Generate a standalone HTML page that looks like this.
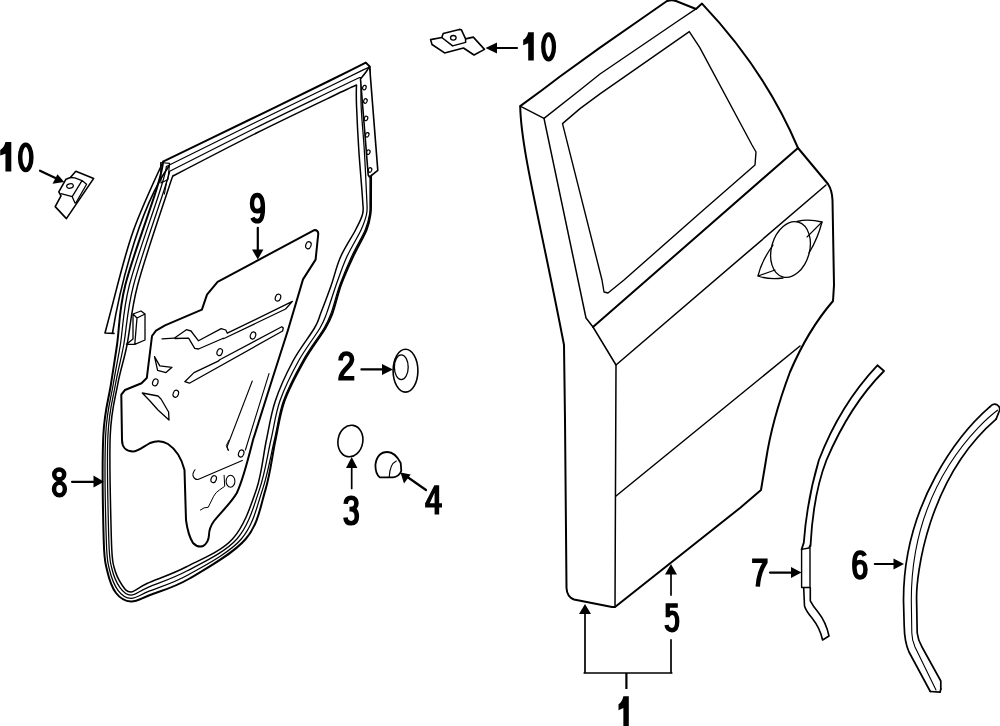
<!DOCTYPE html>
<html><head><meta charset="utf-8"><style>
html,body{margin:0;padding:0;background:#fff;overflow:hidden;}
svg{display:block;}
text{font-family:"Liberation Sans",sans-serif;font-weight:bold;fill:#000;}
</style></head><body>
<svg width="1000" height="726" viewBox="0 0 1000 726">
<g fill="none" stroke="#000" stroke-linejoin="round" stroke-linecap="round">
<path d="M520.2,106.1 L542.2,90 L560,76.5 L600,47.6 L639.7,20 L667,1 Q672,-0.5 676,1 L696,9 L702,3.6 Q765,70 798,148 L828,184 Q832,190 832.5,200 L834,285 L833,301 Q808,330 790,372 Q772,420 766,460 L761,490 L740,508 L615,607 L612,607 L574,599.5 Q567,597 566.5,588 L565,420 L564,345 C540,220 521,150 520.2,106.1 Z" stroke-width="2.0" />
<path d="M520.2,106.1 L544,118.4 L580,90 L600,74 L679.4,20 L696,8.8" stroke-width="1.4" />
<path d="M544,118.4 L586,318 L593,327 L616,365 L615,607" stroke-width="1.5" />
<path d="M562.5,123.6 L580,108.6 L600,93.9 L689.3,31.6 L699.8,47.6 L752,145 L756,152 L755,165 L700,213 L624,280 L608,293 L604,292 L602,280 Z" stroke-width="1.4" />
<path d="M798,148 L593,327" stroke-width="2.0" />
<path d="M826,185 L616,365" stroke-width="1.5" />
<path d="M800,346 L616,496" stroke-width="1.5" />
<ellipse cx="790.5" cy="249.5" rx="19" ry="28.5" transform="rotate(16 790.5 249.5)" stroke-width="1.3"/>
<path d="M797,221.5 Q808,218.5 822,222 Q818,238 809,253" stroke-width="1.3" />
<path d="M822,222 L807,237" stroke-width="1.1" />
<path d="M773,245 Q761,262 758,276 Q769,280 783,278" stroke-width="1.3" />
<path d="M758,276 L775,270" stroke-width="1.1" />
<path d="M430.6,39.6 L441.8,37.5 L443.2,33.6 L459.3,29.4 L461.4,29.8 L465.6,38.9 L473.3,37.1 L484.5,49.4 L474,55 L463.5,48 L444.6,52.9 L432,44.5 Z" stroke-width="1.6" />
<path d="M441.8,37.5 L452.6,45.9 L465.6,42.4 L465.6,38.9" stroke-width="1.5" />
<ellipse cx="453.3" cy="37.8" rx="2.8" ry="2.3" stroke-width="1.3"/>
<path d="M517,48 L494,48" stroke-width="2.2" />
<polygon points="485.5,48 497,42.5 497,53.5" fill="#000" stroke="none"/>
<path d="M75.8,171.2 L93.7,178.4 L66.4,218.6 L55.2,206.6 L61,195.8 L58.8,191.8 L66,179.2 L70.4,177.5 Z" stroke-width="1.6" />
<path d="M70.4,177.5 L74.9,177.9 L82,180.6 L86.6,184.2 M82,180.6 L72.2,196.7 L61,193.6 M86.6,184.2 L75.8,203 M72.2,196.7 L75,203" stroke-width="1.3" />
<ellipse cx="70" cy="186" rx="3.4" ry="2.2" transform="rotate(-12 70 186)" stroke-width="1.2"/>
<path d="M40,170.7 L57,178.8" stroke-width="2.2" />
<polygon points="64.2,182 52.5,183.7 57.5,174.3" fill="#000" stroke="none"/>
<ellipse cx="405.5" cy="370.7" rx="12.4" ry="21.4" stroke-width="1.6"/>
<ellipse cx="401.3" cy="367.2" rx="6.9" ry="12.4" stroke-width="1.3"/>
<path d="M361.4,369.4 L384,369.4" stroke-width="2.2" />
<polygon points="393,369.4 382,364 382,375" fill="#000" stroke="none"/>
<ellipse cx="350.4" cy="441" rx="12.4" ry="15.9" transform="rotate(10 350.4 441)" stroke-width="1.6"/>
<path d="M351.7,488.5 L351.7,466" stroke-width="1.7" />
<polygon points="351.7,457 346,468 357.4,468" fill="#000" stroke="none"/>
<path d="M387.5,452 Q395,452 400.7,463 L401.3,470.8 Q399,477 393,477.4 L379.8,477.4 Q375.4,474 375.4,465 Q377,452 387.5,452 Z" stroke-width="1.8" />
<path d="M396.3,461 Q389.7,464 389.2,477.4" stroke-width="1.2" />
<path d="M426,490 L406,476" stroke-width="2.2" />
<polygon points="400.5,472.5 404,483.5 410.7,474.5" fill="#000" stroke="none"/>
<path d="M585,673 L585,612 M671,595 L671,572 M671,640 L671,673 M584.4,673 L671.6,673" stroke-width="1.7" stroke-linecap="square"/>
<path d="M626.4,673 L626.4,689" stroke-width="2.2" stroke-linecap="butt"/>
<polygon points="585,604 579,614 591,614" fill="#000" stroke="none"/>
<polygon points="671,564 665,574.5 677,574.5" fill="#000" stroke="none"/>
<path d="M770,572.6 L793,572.6" stroke-width="2.2" />
<polygon points="801.5,572.6 791,567 791,578" fill="#000" stroke="none"/>
<path d="M874.8,564 L896,564" stroke-width="2.2" />
<polygon points="904,564 893.5,558.5 893.5,569.5" fill="#000" stroke="none"/>
<path d="M72,481.8 L94,481.8" stroke-width="2.2" />
<polygon points="104,481.8 93.5,475.5 93.5,487.5" fill="#000" stroke="none"/>
<path d="M257.8,227.8 L257.8,250" stroke-width="2.2" />
<polygon points="257.8,259.4 252,249.5 263.4,249.5" fill="#000" stroke="none"/>
<path d="M877.4,365.3 L884,371 Q850,405 826.5,460 Q813,495 810.5,546 M877.4,365.3 Q840,405 818.9,460 Q807,500 803.8,542.6 L801.6,549.4" stroke-width="1.8" />
<path d="M801.6,549.4 L808.8,548 L810,545.4 M801.6,549.4 L801.6,587.5 L810,587.5 L810,546" stroke-width="1.4" />
<path d="M803.7,587.8 L804.5,606 Q806,611 812,618 Q820,628 822.6,640 L829,636 Q826,622 818,612 Q813,606 810.3,600.8 L810.3,587.8" stroke-width="1.6" />
<path d="M990,406.7 C960.1,432.6 903.5,502.5 903.5,600 L904.2,626 Q904.5,642 909,652 L930.3,691.5" stroke-width="1.7" />
<path d="M996.1,419.1 C927.2,478.6 915.9,576.6 916.6,600 L917.2,633 Q918,640 922,647 L940.8,681 L940.8,688.9" stroke-width="1.7" />
<path d="M997.5,410.2 C983.4,420.7 911.3,482.6 911.3,600 L911.8,633 Q912,640 915,647 L936,690" stroke-width="1.1" />
<path d="M990,406.7 Q993,403 996.8,404.6 Q1000.5,407 999.6,410.2 L996.1,419.1 M930.3,691.5 L940.1,692.2 L940.8,688.9" stroke-width="1.7" />
<path d="M163.0,161.7 C163.0,161.7 222.2,133.0 250.0,119.5 C277.8,106.0 310.7,90.0 330.0,80.5 C349.3,71.0 365.8,62.6 365.8,62.6 C365.8,62.6 369.6,66.4 369.6,66.4 C369.6,66.4 370.1,91.1 370.3,105.0 C370.5,118.9 370.9,134.2 371.0,150.0 C371.1,165.8 371.1,189.3 371.0,200.0 C370.9,210.7 371.2,209.0 370.5,214.0 C369.8,219.0 369.5,222.8 366.5,230.0 C363.5,237.2 356.9,248.3 352.7,257.5 C348.4,266.7 344.3,275.8 341.0,285.0 C337.7,294.2 335.3,305.4 332.7,312.6 C330.1,319.8 330.3,319.9 325.5,328.0 C320.7,336.1 310.8,348.8 304.0,361.0 C297.2,373.2 289.2,387.8 284.5,401.0 C279.8,414.2 278.7,425.2 275.5,440.0 C272.3,454.8 270.5,473.1 265.5,489.6 C260.5,506.1 258.3,524.2 245.7,539.0 C233.0,553.8 205.5,569.2 189.6,578.5 C173.7,587.8 159.8,591.2 150.0,595.0 C140.2,598.8 136.7,601.8 131.0,601.5 C125.3,601.2 120.0,598.2 116.0,593.0 C112.0,587.8 109.0,578.8 107.0,570.0 C105.0,561.2 104.3,562.3 103.7,540.0 C103.1,517.7 102.1,461.9 103.3,436.0 C104.5,410.1 108.6,399.7 110.9,384.5 C113.2,369.3 114.6,361.6 117.0,345.0 C119.4,328.4 118.8,310.8 125.3,285.0 C131.8,259.2 150.0,210.6 156.3,190.0 C162.6,169.4 163.0,161.7 163.0,161.7 Z" stroke-width="2.0"/>
<path d="M166.3,166.5 C166.3,166.5 224.6,137.6 252.2,124.0 C279.8,110.5 313.6,94.2 332.0,85.2 C350.4,76.2 362.7,70.1 362.7,70.1 C362.7,70.1 368.9,67.3 368.9,67.3 C368.9,67.3 369.4,91.2 369.6,105.0 C369.8,118.8 370.0,134.2 370.0,150.0 C370.1,165.8 370.1,189.3 370.0,200.0 C369.9,210.7 370.4,209.0 369.6,214.0 C368.8,219.0 368.2,222.8 365.2,230.0 C362.1,237.2 355.4,248.3 351.2,257.5 C347.0,266.7 343.2,275.8 339.8,285.0 C336.5,294.2 333.9,305.4 331.3,312.6 C328.7,319.8 328.9,319.9 324.2,328.0 C319.4,336.1 309.5,348.8 302.7,361.0 C295.9,373.2 288.1,387.8 283.4,401.0 C278.7,414.2 277.9,425.2 274.4,440.0 C270.9,454.8 268.0,473.1 262.5,489.6 C256.9,506.1 253.6,524.8 241.3,539.0 C229.0,553.2 203.8,566.0 188.4,574.7 C173.0,583.4 158.6,587.2 149.0,591.2 C139.4,595.1 136.2,598.5 131.0,598.3 C125.8,598.2 121.6,595.2 118.0,590.3 C114.4,585.4 111.3,577.4 109.3,569.0 C107.4,560.6 106.9,562.2 106.3,540.0 C105.6,517.8 104.5,461.9 105.6,436.0 C106.8,410.1 110.7,399.7 113.2,384.5 C115.6,369.3 117.6,361.6 120.3,345.0 C123.0,328.4 122.8,310.8 129.4,285.0 C136.1,259.2 154.1,209.8 160.2,190.0 C166.4,170.2 166.3,166.5 166.3,166.5 Z" stroke-width="1.25"/>
<path d="M169.7,171.2 C169.7,171.2 226.9,142.1 254.3,128.5 C281.7,114.9 316.5,98.3 334.0,89.8 C351.5,81.3 359.6,77.5 359.6,77.5 C359.6,77.5 361.7,77.6 361.7,77.6 C361.7,77.6 360.6,92.9 361.1,105.0 C361.5,117.1 363.3,134.2 364.3,150.0 C365.2,165.8 366.4,189.3 366.8,200.0 C367.2,210.7 367.5,209.0 366.6,214.0 C365.6,219.0 364.3,222.8 361.0,230.0 C357.7,237.2 350.6,248.3 346.5,257.5 C342.4,266.7 339.4,275.8 336.1,285.0 C332.9,294.2 329.5,305.4 326.9,312.6 C324.2,319.8 324.7,319.9 320.0,328.0 C315.3,336.1 305.2,348.8 298.5,361.0 C291.8,373.2 284.5,387.8 279.9,401.0 C275.3,414.2 274.4,425.2 270.9,440.0 C267.5,454.8 265.1,473.1 259.4,489.6 C253.8,506.1 248.9,525.5 236.9,539.0 C224.9,552.5 202.0,562.8 187.2,570.8 C172.4,578.9 157.4,583.3 148.0,587.3 C138.6,591.4 135.7,595.1 131.0,595.2 C126.3,595.2 123.2,592.2 120.0,587.7 C116.8,583.1 113.5,575.9 111.7,568.0 C109.8,560.1 109.5,562.0 108.8,540.0 C108.2,518.0 106.8,461.9 107.9,436.0 C109.0,410.1 112.8,399.7 115.4,384.5 C118.1,369.3 120.6,361.6 123.7,345.0 C126.7,328.4 126.8,310.8 133.6,285.0 C140.3,259.2 158.1,209.0 164.1,190.0 C170.1,171.0 169.7,171.2 169.7,171.2 Z" stroke-width="1.25"/>
<path d="M173.0,176.0 C173.0,176.0 229.3,146.6 256.5,133.0 C283.7,119.4 319.3,102.5 336.0,94.5 C352.7,86.5 356.5,85.0 356.5,85.0 C356.5,85.0 356.5,85.0 356.5,85.0 C356.5,85.0 356.1,94.2 356.5,105.0 C356.9,115.8 357.8,134.2 358.8,150.0 C359.8,165.8 362.0,189.3 362.6,200.0 C363.2,210.7 363.8,209.0 362.6,214.0 C361.4,219.0 359.2,222.8 355.5,230.0 C351.8,237.2 344.3,248.3 340.3,257.5 C336.3,266.7 334.5,275.8 331.3,285.0 C328.1,294.2 323.8,305.4 321.0,312.6 C318.2,319.8 319.2,319.9 314.5,328.0 C309.8,336.1 299.5,348.8 293.0,361.0 C286.5,373.2 279.7,387.8 275.3,401.0 C270.9,414.2 269.5,425.2 266.4,440.0 C263.2,454.8 262.0,473.1 256.4,489.6 C250.7,506.1 244.2,526.1 232.5,539.0 C220.8,551.9 200.2,559.6 186.0,567.0 C171.8,574.4 156.2,579.3 147.0,583.5 C137.8,587.7 135.2,591.8 131.0,592.0 C126.8,592.2 124.8,589.2 122.0,585.0 C119.2,580.8 115.8,574.5 114.0,567.0 C112.2,559.5 112.0,561.8 111.4,540.0 C110.8,518.2 109.2,461.9 110.2,436.0 C111.2,410.1 114.9,399.7 117.7,384.5 C120.5,369.3 123.7,361.6 127.0,345.0 C130.3,328.4 130.9,310.8 137.7,285.0 C144.5,259.2 162.1,208.2 168.0,190.0 C173.9,171.8 173.0,176.0 173.0,176.0 Z" stroke-width="1.5"/>
<path d="M163,162 C125.2,243 129.7,240.7 105,333 L114,333.4 L112.5,333 C117.7,300.5 136.2,212.8 169,166" stroke-width="1.6" />
<path d="M160.6,162.5 L169.6,163.4 L167.9,179.6 L161,183 Z M161,183 L167,180 L164.4,194" stroke-width="1.1" />
<path d="M360.5,79 L366,72 L369.6,66.4 L377.8,170.4 L369.5,177 L368.2,175 Z" fill="#fff" stroke-width="1.6"/>
<ellipse cx="364.4" cy="87.6" rx="1.7" ry="2.3" transform="rotate(20 364.4 87.6)" stroke-width="1.2"/>
<ellipse cx="365.4" cy="101" rx="1.7" ry="2.3" transform="rotate(20 365.4 101)" stroke-width="1.2"/>
<ellipse cx="366" cy="118.4" rx="1.7" ry="2.3" transform="rotate(20 366 118.4)" stroke-width="1.2"/>
<ellipse cx="367.2" cy="134.8" rx="1.7" ry="2.3" transform="rotate(20 367.2 134.8)" stroke-width="1.2"/>
<ellipse cx="368.3" cy="152.2" rx="1.7" ry="2.3" transform="rotate(20 368.3 152.2)" stroke-width="1.2"/>
<ellipse cx="370" cy="170" rx="1.7" ry="2.3" transform="rotate(20 370 170)" stroke-width="1.2"/>
<path d="M133,314 L141,311 L145,314 L145,340 L134.8,344.3 L126.5,344.3 L133,339 Z M133,314 L137,318 L145,314 M137,318 L134.8,344" stroke-width="1.3" />
<path d="M314.7,229.9 Q318,230 318.3,233.5 L315.6,259.6 L303,279.4 L288,330 L272,380 L253,440 C248,460 243,480 236.8,493 C231,503 222,511 214,521 Q209,528 209,535 Q208.5,543 203,546 Q198,548 193,543 Q188,535 186,520 L184.5,470 Q180,452 168,444 Q160,439 150,443 C142,447.5 138,451.5 133,451.5 C126,451.5 122,447 122,440 L121.3,394.6 L125,390 L141.5,383.3 L146.8,378 L152,336 L156,330.6 L165,325.3 L201.9,309.6 L207,294.6 L217.6,281.8 Z" stroke-width="2.0" />
<path d="M162,338.8 L174.2,338.2 L186.4,329.7 L191,331 L198.5,340.8 L221.2,328.6 L225.8,330 L227.3,333.2 L292.4,301.4 L285.6,309 L224,338.5 L222.7,338.5 L198.5,349 L194.7,348.3 L188.6,338.2 L175,338.5" stroke-width="1.3" />
<path d="M184.8,381.7 L194,372.6 L218.2,361.2 L219.7,359.7 L281.8,326.7 L283.3,327.9 L282.6,331 L189.4,383.2 Z" stroke-width="1.3" />
<ellipse cx="230.5" cy="481.2" rx="4.4" ry="6" stroke-width="1.1"/>
<ellipse cx="308.4" cy="245.2" rx="2.6" ry="3.6" transform="rotate(20 308.4 245.2)" stroke-width="1.2"/>
<ellipse cx="278" cy="297.6" rx="2.6" ry="3.6" transform="rotate(20 278 297.6)" stroke-width="1.2"/>
<ellipse cx="253" cy="335.5" rx="2.6" ry="3.6" transform="rotate(20 253 335.5)" stroke-width="1.2"/>
<ellipse cx="219.7" cy="352.1" rx="2.6" ry="3.6" transform="rotate(20 219.7 352.1)" stroke-width="1.2"/>
<ellipse cx="155.3" cy="382.4" rx="2.6" ry="3.6" transform="rotate(20 155.3 382.4)" stroke-width="1.2"/>
<ellipse cx="175.8" cy="393.8" rx="2.6" ry="3.6" transform="rotate(20 175.8 393.8)" stroke-width="1.2"/>
<ellipse cx="241.2" cy="453.5" rx="2.6" ry="3.6" transform="rotate(20 241.2 453.5)" stroke-width="1.2"/>
<ellipse cx="213.7" cy="479.1" rx="2.6" ry="3.6" transform="rotate(20 213.7 479.1)" stroke-width="1.2"/>
<path d="M154.5,356.7 L159.8,365.8 L172,367.3 L166,372.6 L157.6,370.3 Z" stroke-width="1.3" />
<path d="M142.3,393 L158,396 L161,399 L168.6,412 L169,420 L158,410 L150,401 Z" stroke-width="1.3" />
<path d="M269,373.6 L245.4,450" stroke-width="1.1" />
<path d="M252.3,381 L227,447 L228,450" stroke-width="1.1" />
<path d="M195,469.8 Q192,474 193.3,476.4 Q195,480 198,479.4 L242.3,460.4" stroke-width="1.1" />
<path d="M200.4,510 Q204,507 208.2,507.3 L213.7,496.2 Q216,492 219.2,490.2 L224.7,486.3 L224.1,475.3" stroke-width="1.0" />
<path d="M229.1,440 L226.3,445.5 L228.6,450.5" stroke-width="1.0" />
</g>
<g transform="translate(0.2,142.1) scale(1.0091,0.9767)" fill="#000" stroke="none"><path d="M5.2,0 L11,0 L11,30 L5.2,30 L5.2,11.8 L0,13.8 L0,8 Q3.8,6 5.2,0 Z"/></g>
<g transform="translate(17.9,142.4) scale(0.9813,0.9933)" fill="none" stroke="#000" stroke-width="4.6" stroke-linecap="butt" stroke-linejoin="miter"><ellipse cx="8" cy="15" rx="5.7" ry="12.7"/></g>
<g transform="translate(523.2,32.2) scale(0.9636,0.9467)" fill="#000" stroke="none"><path d="M5.2,0 L11,0 L11,30 L5.2,30 L5.2,11.8 L0,13.8 L0,8 Q3.8,6 5.2,0 Z"/></g>
<g transform="translate(541.1,32.2) scale(0.9375,0.9733)" fill="none" stroke="#000" stroke-width="4.6" stroke-linecap="butt" stroke-linejoin="miter"><ellipse cx="8" cy="15" rx="5.7" ry="12.7"/></g>
<g transform="translate(249.8,192.7) scale(0.9563,1.0300)" fill="none" stroke="#000" stroke-width="4.6" stroke-linecap="butt" stroke-linejoin="miter"><path d="M2.8,24.2 C3.8,26.8 5.5,27.7 7.8,27.7 C12,27.7 13.7,23.5 13.7,15 C13.7,6 11.5,2.3 7.8,2.3 C4.2,2.3 2.3,5.5 2.3,10.5 C2.3,15.5 4.5,18 7.7,18 C10.5,18 13,16 13.7,13"/></g>
<g transform="translate(338.3,351.2) scale(1.0000,0.9833)" fill="none" stroke="#000" stroke-width="4.6" stroke-linecap="butt" stroke-linejoin="miter"><path d="M2.3,9.5 C2.3,4.5 4.8,2.3 8,2.3 C11.5,2.3 13.7,4.7 13.7,8.3 C13.7,11.5 12,13.5 9.5,16 C6,19.5 2.5,22.5 2.3,27.4 L16,27.4"/></g>
<g transform="translate(343.2,495.5) scale(0.9938,1.0000)" fill="none" stroke="#000" stroke-width="4.6" stroke-linecap="butt" stroke-linejoin="miter"><path d="M2.5,8.3 C2.8,4 5,2.3 8,2.3 C11.5,2.3 13.3,4.5 13.3,7.8 C13.3,11 11.2,13.6 7.5,13.6 L6.3,13.6 M7.5,13.6 C11.8,13.6 13.7,16.5 13.7,21 C13.7,25.5 11.5,27.7 8,27.7 C4.5,27.7 2.5,25.5 2.3,22"/></g>
<g transform="translate(425.1,485.0) scale(0.9769,0.9800)" fill="#000" stroke="none"><path fill-rule="evenodd" d="M9.5,0.3 L14.4,0.3 L14.4,18.5 L17.3,18.5 L17.3,22.9 L14.4,22.9 L14.4,30 L9.7,30 L9.7,22.9 L0,22.9 L0,18.5 Z M9.7,7.8 L4.8,18.5 L9.7,18.5 Z"/></g>
<g transform="translate(51.8,467.3) scale(0.9745,0.9774)" fill="none" stroke="#000" stroke-width="4.6" stroke-linecap="butt" stroke-linejoin="miter"><ellipse cx="7.6" cy="7.3" rx="5.1" ry="5.0"/><ellipse cx="7.85" cy="22.3" rx="5.55" ry="6.4"/></g>
<g transform="translate(752.1,558.4) scale(0.9750,0.9433)" fill="none" stroke="#000" stroke-width="4.6" stroke-linecap="butt" stroke-linejoin="miter"><path d="M0,2.45 L15.9,2.45 M13.9,3.5 C9,11 6.5,19 5.8,30"/></g>
<g transform="translate(852.1,550.2) scale(0.9750,0.9833)" fill="none" stroke="#000" stroke-width="4.6" stroke-linecap="butt" stroke-linejoin="miter"><path d="M13,5.8 C12,3.2 10.5,2.3 8.2,2.3 C4,2.3 2.3,6.5 2.3,15 C2.3,24 4.5,27.7 8.2,27.7 C11.8,27.7 13.7,24.5 13.7,19.5 C13.7,14.5 11.5,12 8.3,12 C5.5,12 3,14 2.3,17"/></g>
<g transform="translate(664.4,603.0) scale(0.9375,0.9800)" fill="none" stroke="#000" stroke-width="4.6" stroke-linecap="butt" stroke-linejoin="miter"><path d="M14.3,2.5 L3.6,2.5 L3.6,14.5 M3.6,12.8 C5,10.7 6.5,9.9 8.5,9.9 C12.3,9.9 13.7,14 13.7,19 C13.7,25 11.5,27.7 8,27.7 C4.8,27.7 2.6,25.5 2.3,22.5"/></g>
<g transform="translate(618.5,696.2) scale(0.9364,1.0100)" fill="#000" stroke="none"><path d="M5.2,0 L11,0 L11,30 L5.2,30 L5.2,11.8 L0,13.8 L0,8 Q3.8,6 5.2,0 Z"/></g>
</svg>
</body></html>
